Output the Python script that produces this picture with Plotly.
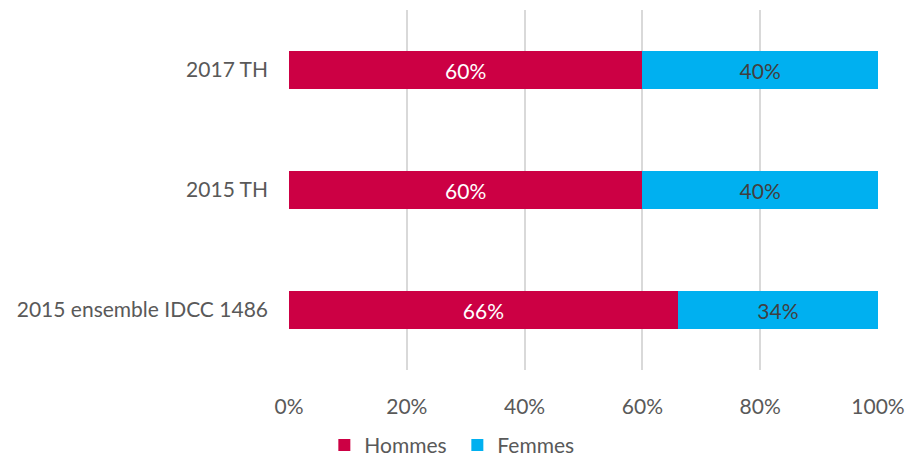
import plotly.graph_objects as go

categories = ["2015 ensemble IDCC 1486", "2015 TH", "2017 TH"]
hommes = [66, 60, 60]
femmes = [34, 40, 40]
tick_vals = [0, 20, 40, 60, 80, 100]
tick_text = ["0%", "20%", "40%", "60%", "80%", "100%"]

FONT = "Lato"
FS = 21
fig = go.Figure()
fig.add_trace(go.Bar(
    y=categories, x=hommes, name="Hommes", orientation="h",
    marker=dict(color="#CC0044", line=dict(width=0)),
    text=[f"{v}%" for v in hommes], textposition="inside", insidetextanchor="middle",
    textfont=dict(color="white", size=FS, family=FONT), width=0.31,
))
fig.add_trace(go.Bar(
    y=categories, x=femmes, name="Femmes", orientation="h",
    marker=dict(color="#00B0F0", line=dict(width=0)),
    text=[f"{v}%" for v in femmes], textposition="inside", insidetextanchor="middle",
    textfont=dict(color="#404040", size=FS, family=FONT), width=0.31,
))
fig.update_layout(
    barmode="stack",
    width=905, height=462,
    margin=dict(l=289, r=27, t=10, b=92),
    plot_bgcolor="white", paper_bgcolor="white",
    font=dict(family=FONT, size=FS, color="#595959"),
    uniformtext=dict(mode=False),
    showlegend=True,
    legend=dict(orientation="h", x=0.06, xanchor="left",
                yref="container", y=0.036, yanchor="middle",
                font=dict(size=FS, color="#595959"), traceorder="normal",
                itemwidth=30, tracegroupgap=0,
                entrywidth=88, entrywidthmode="pixels"),
    xaxis=dict(range=[0, 100], tickvals=tick_vals, ticktext=tick_text,
               showgrid=True, gridcolor="#D9D9D9", gridwidth=1.5, zeroline=False,
               showline=False, ticks="", ticklabelstandoff=22, automargin=False,
               tickfont=dict(size=FS, color="#595959")),
    yaxis=dict(range=[-0.5, 2.5], showgrid=False, zeroline=False, showline=False,
               ticks="", ticklabelstandoff=20, automargin=False,
               tickfont=dict(size=FS, color="#595959")),
)
fig.write_html("out.html")
